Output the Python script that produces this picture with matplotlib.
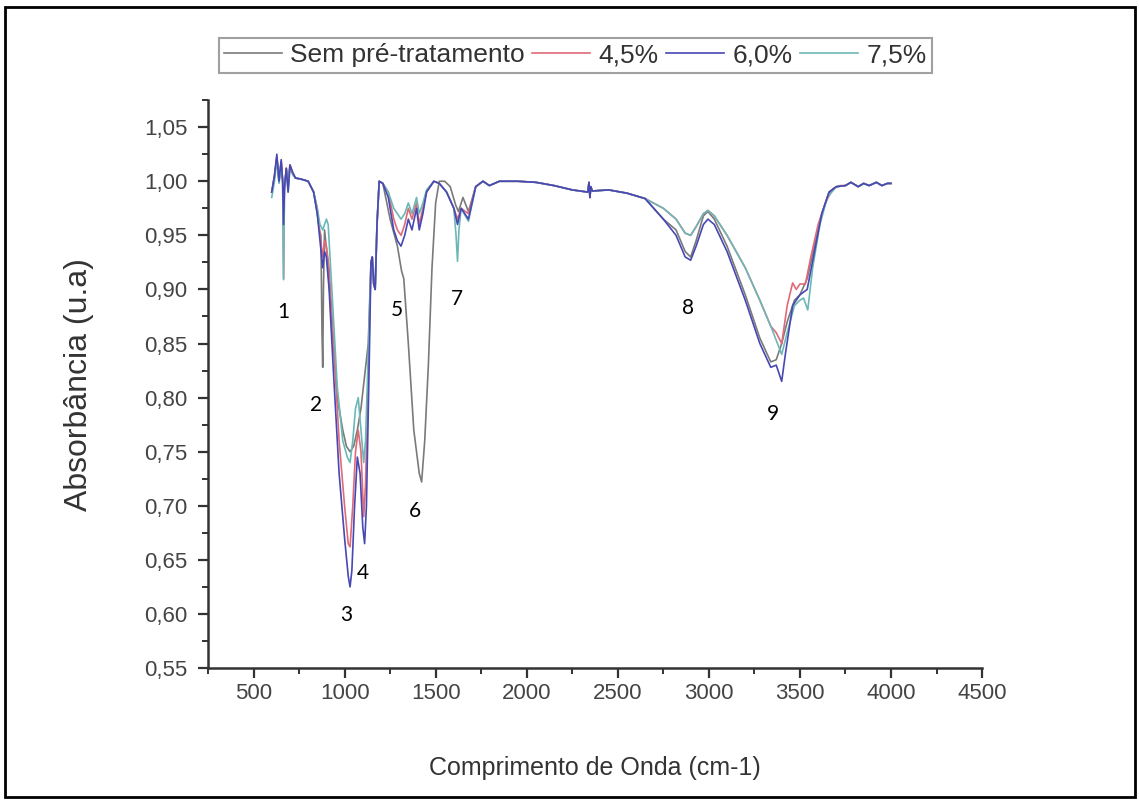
import matplotlib
matplotlib.use("Agg")
import matplotlib.pyplot as plt
from matplotlib.patches import Rectangle
from matplotlib.ticker import MultipleLocator, FuncFormatter

# --- Data (wavenumber cm-1, absorbance) ---
# region 1720-2650 is practically identical for all four samples
flat_x = [1760, 1795, 1850, 1950, 2050, 2150, 2250, 2335, 2342, 2347, 2352, 2360, 2450, 2550, 2650]
flat_y = [1.000, 0.996, 1.000, 1.000, 0.999, 0.996, 0.992, 0.990, 0.999, 0.985, 0.995, 0.991, 0.992, 0.989, 0.984]

tail_x = [3750, 3780, 3820, 3850, 3880, 3920, 3950, 3980, 4000]
tail_y = [0.996, 0.999, 0.995, 0.998, 0.996, 0.999, 0.996, 0.998, 0.998]

sem_x = [600, 615, 628, 640, 652, 662, 668, 674, 680, 690, 700, 715, 730, 760, 800, 830,
         850, 862, 870, 876, 880, 884, 890, 905, 930, 960, 990, 1010, 1030, 1050, 1070,
         1090, 1110, 1130, 1145, 1152, 1160, 1168, 1178, 1190, 1210, 1250, 1290, 1313,
         1325, 1350, 1380, 1410, 1423, 1440, 1460, 1480, 1500, 1520, 1550, 1580, 1610,
         1625, 1650, 1680, 1720] + flat_x + \
        [2750, 2820, 2870, 2900, 2930, 2970, 2995, 3030, 3100, 3200, 3280, 3340, 3370,
         3400, 3430, 3470, 3500, 3540, 3580, 3620, 3660, 3700] + tail_x
sem_y = [0.990, 1.005, 1.022, 1.000, 1.018, 0.996, 0.990, 0.998, 1.012, 0.998, 1.015, 1.008,
         1.003, 1.002, 1.000, 0.990, 0.970, 0.955, 0.950, 0.860, 0.828, 0.900, 0.955, 0.930,
         0.870, 0.800, 0.770, 0.755, 0.750, 0.755, 0.770, 0.790, 0.820, 0.850, 0.925, 0.930,
         0.905, 0.900, 0.960, 1.000, 0.998, 0.965, 0.940, 0.917, 0.910, 0.850, 0.770, 0.730,
         0.722, 0.760, 0.830, 0.920, 0.980, 1.000, 1.000, 0.995, 0.978, 0.972, 0.985, 0.972,
         0.995] + flat_y + \
        [0.965, 0.955, 0.935, 0.930, 0.945, 0.968, 0.972, 0.965, 0.940, 0.895, 0.855, 0.833,
         0.835, 0.850, 0.870, 0.890, 0.895, 0.910, 0.940, 0.970, 0.990, 0.995] + tail_y

r45_x = [600, 615, 628, 640, 652, 660, 665, 670, 680, 690, 700, 715, 730, 760, 800, 830,
         850, 865, 880, 890, 900, 915, 940, 970, 1000, 1020, 1030, 1045, 1060, 1075, 1090,
         1105, 1115, 1130, 1145, 1152, 1160, 1168, 1178, 1190, 1210, 1240, 1270, 1290, 1310,
         1330, 1350, 1370, 1395, 1410, 1430, 1450, 1490, 1520, 1560, 1600, 1620, 1640, 1680,
         1720] + flat_x + \
        [2750, 2820, 2870, 2900, 2930, 2970, 2995, 3030, 3100, 3200, 3280, 3340, 3370, 3400,
         3430, 3460, 3480, 3500, 3530, 3560, 3600, 3640, 3680, 3720] + tail_x
r45_y = [0.990, 1.005, 1.022, 1.000, 1.018, 1.000, 0.910, 0.995, 1.012, 0.995, 1.015, 1.008,
         1.003, 1.002, 1.000, 0.990, 0.975, 0.950, 0.930, 0.945, 0.940, 0.920, 0.850, 0.760,
         0.700, 0.665, 0.662, 0.700, 0.750, 0.770, 0.750, 0.690, 0.720, 0.820, 0.925, 0.930,
         0.905, 0.900, 0.960, 1.000, 0.998, 0.990, 0.965, 0.955, 0.950, 0.960, 0.975, 0.965,
         0.980, 0.960, 0.975, 0.990, 1.000, 0.998, 0.990, 0.975, 0.965, 0.975, 0.970,
         0.995] + flat_y + \
        [0.975, 0.965, 0.952, 0.950, 0.958, 0.970, 0.973, 0.968, 0.950, 0.920, 0.890, 0.866,
         0.860, 0.850, 0.885, 0.906, 0.900, 0.905, 0.905, 0.930, 0.960, 0.980, 0.993,
         0.996] + tail_y

r60_x = [600, 615, 628, 640, 652, 660, 665, 670, 680, 690, 700, 715, 730, 760, 800, 830,
         850, 865, 880, 890, 900, 915, 940, 970, 1000, 1020, 1030, 1040, 1055, 1070, 1085,
         1100, 1110, 1120, 1135, 1145, 1152, 1160, 1168, 1178, 1190, 1210, 1240, 1270, 1290,
         1310, 1330, 1350, 1370, 1395, 1410, 1430, 1450, 1490, 1520, 1560, 1600, 1620, 1640,
         1680, 1720] + flat_x + \
        [2750, 2820, 2870, 2900, 2930, 2970, 2995, 3030, 3100, 3200, 3280, 3340, 3370, 3400,
         3420, 3460, 3500, 3540, 3580, 3620, 3660, 3700] + tail_x
r60_y = [0.990, 1.005, 1.025, 1.000, 1.020, 1.000, 0.960, 0.995, 1.012, 0.990, 1.015, 1.008,
         1.003, 1.002, 1.000, 0.990, 0.970, 0.945, 0.920, 0.935, 0.930, 0.900, 0.820, 0.730,
         0.670, 0.635, 0.625, 0.640, 0.700, 0.745, 0.730, 0.680, 0.665, 0.700, 0.830, 0.925,
         0.930, 0.905, 0.900, 0.960, 1.000, 0.998, 0.985, 0.955, 0.945, 0.940, 0.950, 0.965,
         0.955, 0.975, 0.955, 0.970, 0.990, 1.000, 0.998, 0.990, 0.975, 0.960, 0.975, 0.965,
         0.995] + flat_y + \
        [0.965, 0.950, 0.930, 0.927, 0.940, 0.960, 0.965, 0.960, 0.935, 0.890, 0.850, 0.828,
         0.830, 0.815, 0.840, 0.885, 0.895, 0.900, 0.935, 0.970, 0.990, 0.995] + tail_y

r75_x = [600, 615, 628, 640, 652, 660, 665, 670, 680, 690, 700, 715, 730, 760, 800, 830,
         850, 865, 880, 900, 910, 930, 960, 990, 1015, 1030, 1045, 1060, 1075, 1090, 1105,
         1115, 1130, 1145, 1152, 1160, 1168, 1178, 1190, 1210, 1240, 1270, 1290, 1310, 1330,
         1350, 1370, 1395, 1410, 1430, 1450, 1490, 1520, 1560, 1600, 1612, 1620, 1628, 1640,
         1680, 1720] + flat_x + \
        [2750, 2820, 2870, 2900, 2930, 2970, 2995, 3030, 3100, 3200, 3280, 3340, 3400, 3430,
         3470, 3500, 3520, 3543, 3570, 3610, 3650, 3700] + tail_x
r75_y = [0.985, 1.000, 1.020, 0.998, 1.015, 1.000, 0.909, 0.995, 1.010, 0.990, 1.012, 1.006,
         1.003, 1.002, 1.000, 0.990, 0.975, 0.960, 0.955, 0.965, 0.960, 0.900, 0.810, 0.760,
         0.745, 0.740, 0.760, 0.790, 0.800, 0.770, 0.740, 0.760, 0.840, 0.925, 0.930, 0.905,
         0.900, 0.960, 1.000, 0.998, 0.990, 0.975, 0.970, 0.965, 0.970, 0.980, 0.970, 0.985,
         0.970, 0.980, 0.992, 1.000, 0.998, 0.990, 0.975, 0.950, 0.926, 0.955, 0.975, 0.963,
         0.995] + flat_y + \
        [0.975, 0.965, 0.952, 0.950, 0.958, 0.970, 0.973, 0.968, 0.950, 0.920, 0.890, 0.866,
         0.840, 0.860, 0.885, 0.890, 0.892, 0.881, 0.920, 0.960, 0.985, 0.995] + tail_y

series_labels = ["Sem pré-tratamento", "4,5%", "6,0%", "7,5%"]
series_colors = ["#7a7a7a", "#e06a78", "#4848b4", "#6bb8b8"]
draw_order = [0, 1, 3, 2]  # blue on top, as in the original

peak_labels = ["1", "2", "3", "4", "5", "6", "7", "8", "9"]
peak_x = [665, 841, 1011, 1099, 1286, 1385, 1615, 2885, 3352]
peak_y = [0.879, 0.793, 0.599, 0.638, 0.881, 0.695, 0.891, 0.883, 0.785]

# --- Plot ---
plt.rcParams["font.family"] = ["Liberation Sans", "DejaVu Sans"]
fig = plt.figure(figsize=(11.39, 8.01), dpi=100)
ax = fig.add_axes([0.1826, 0.166, 0.6796, 0.709])

all_x = [sem_x, r45_x, r60_x, r75_x]
all_y = [sem_y, r45_y, r60_y, r75_y]
lines = {}
for i in draw_order:
    ln, = ax.plot(all_x[i], all_y[i], color=series_colors[i], lw=1.2, label=series_labels[i])
    lines[i] = ln

for t, px, py in zip(peak_labels, peak_x, peak_y):
    ax.text(px, py, t, fontsize=15, family="Lato", ha="center", va="center", color="black")

ax.set_xlim(250, 4500)
ax.set_ylim(0.55, 1.075)
ax.xaxis.set_major_locator(MultipleLocator(500))
ax.xaxis.set_minor_locator(MultipleLocator(250))
ax.yaxis.set_major_locator(MultipleLocator(0.05))
ax.yaxis.set_minor_locator(MultipleLocator(0.025))
ax.set_xticks(range(500, 4501, 500))
ax.yaxis.set_major_formatter(FuncFormatter(lambda v, p: f"{v:.2f}".replace(".", ",")))

for side in ["top", "right"]:
    ax.spines[side].set_visible(False)
for side in ["left", "bottom"]:
    ax.spines[side].set_linewidth(1.8)
    ax.spines[side].set_color("#333333")
ax.tick_params(which="major", length=7, width=1.6, colors="#333333", labelsize=16,
               labelcolor="#444444")
ax.tick_params(axis="y", which="major", pad=8)
ax.tick_params(which="minor", length=4, width=1.4, colors="#333333")

ax.set_xlabel("Comprimento de Onda (cm-1)", fontsize=18, color="#333333", labelpad=38)
ax.set_ylabel("Absorbância (u.a)", fontsize=23, color="#333333", labelpad=36)

handles = [lines[i] for i in range(4)]
leg = fig.legend(handles, series_labels, loc="center", bbox_to_anchor=(0.505, 0.931), ncol=4,
                 fontsize=19, frameon=True, fancybox=False, handlelength=2.2,
                 handletextpad=0.3, columnspacing=0.3, borderpad=0.2)
leg.get_frame().set_edgecolor("#888888")
leg.get_frame().set_linewidth(1.5)
for txt in leg.get_texts():
    txt.set_color("#333333")

# border around the whole picture
fig.patches.append(Rectangle((5 / 1139, 4 / 801), 1130 / 1139, 790 / 801, fill=False,
                             lw=2, edgecolor="black", transform=fig.transFigure))

fig.savefig("out.png", dpi=100)
